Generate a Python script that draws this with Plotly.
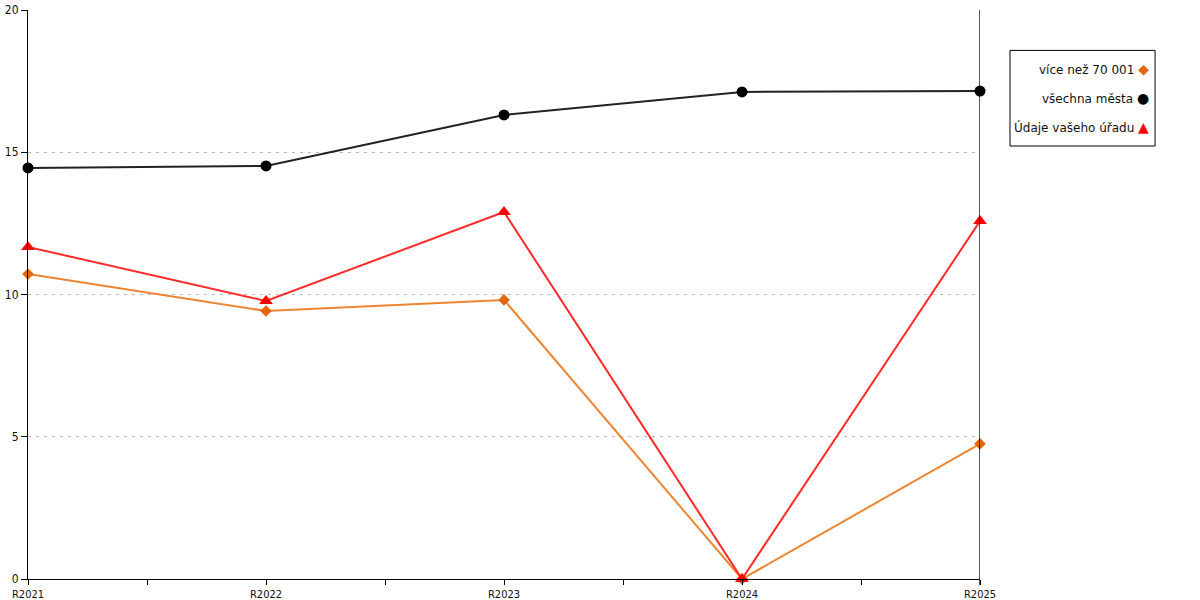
import plotly.graph_objects as go

categories = ["R2021", "R2022", "R2023", "R2024", "R2025"]
vice_nez_70001 = [10.72, 9.42, 9.81, 0.0, 4.75]
vsechna_mesta = [14.45, 14.52, 16.31, 17.12, 17.15]
udaje_uradu = [11.67, 9.77, 12.90, 0.0, 12.58]
y_ticks = [0, 5, 10, 15, 20]

names = ["více než 70 001", "všechna města", "Údaje vašeho úřadu"]
line_colors = ["#EE8530", "#222222", "#FF2A2A"]
marker_colors = ["#E0680A", "#000000", "#FF0000"]
symbols = ["diamond", "circle", "triangle-up"]
sizes = [9, 11, 12]
glyphs = ["◆", "●", "▲"]

xpos = list(range(len(categories)))
x_tick_font = dict(family="DejaVu Sans Condensed, DejaVu Sans", size=11, color="#111")
y_tick_font = dict(family="DejaVu Sans Condensed, DejaVu Sans", size=12, color="#111")

fig = go.Figure()
for vals, name, lc, mc, sym, sz in zip(
    [vice_nez_70001, vsechna_mesta, udaje_uradu], names, line_colors, marker_colors, symbols, sizes
):
    fig.add_trace(go.Scatter(
        x=xpos, y=vals, mode="lines+markers", name=name,
        line=dict(color=lc, width=2),
        marker=dict(symbol=sym, size=sz, color=mc),
        showlegend=False, cliponaxis=False,
    ))

tickvals = []
ticktext = []
for i, c in enumerate(categories):
    tickvals.append(i)
    ticktext.append(c)
    if i < len(categories) - 1:
        tickvals.append(i + 0.5)
        ticktext.append("")

fig.update_xaxes(
    range=[0, len(categories) - 1],
    tickvals=tickvals, ticktext=ticktext,
    ticks="outside", ticklen=5, tickcolor="black", tickwidth=1,
    showline=True, linecolor="black", linewidth=1,
    showgrid=False, zeroline=False, automargin=False,
    tickfont=x_tick_font,
)
fig.update_yaxes(
    range=[0, 20], tickvals=y_ticks,
    ticks="outside", ticklen=6, tickcolor="black",
    showline=True, linecolor="black", linewidth=1,
    showgrid=True, gridcolor="#b8b8b8", griddash="3px,5px", gridwidth=1,
    zeroline=False, automargin=False,
    tickfont=y_tick_font,
)

# right-hand vertical line at the last category
fig.add_shape(type="line", xref="x", yref="paper", x0=len(categories) - 1, x1=len(categories) - 1,
              y0=-0.011, y1=1, line=dict(color="black", width=1.3))

# custom legend (symbols on the right)
fig.add_shape(type="rect", xref="paper", yref="paper",
              x0=1.0315, x1=1.1839, y0=0.761, y1=0.929,
              line=dict(color="black", width=1), fillcolor="white")
legend_y = [0.896, 0.845, 0.794]
for name, mc, g, ly in zip(names, marker_colors, glyphs, legend_y):
    fig.add_annotation(
        xref="paper", yref="paper", x=1.1795, y=ly, xanchor="right", yanchor="middle",
        text=f"{name} <span style='color:{mc}; font-size:14px'>{g}</span>",
        showarrow=False, font=dict(family="DejaVu Sans", size=12, color="#111"),
    )

fig.update_layout(
    width=1200, height=600,
    margin=dict(l=28, r=220, t=10, b=21),
    plot_bgcolor="white", paper_bgcolor="white",
    showlegend=False,
)

fig.write_html(
    "out.html",
    config={"displayModeBar": False},
    post_script="document.body.style.margin='0';document.body.style.overflow='hidden';",
)
